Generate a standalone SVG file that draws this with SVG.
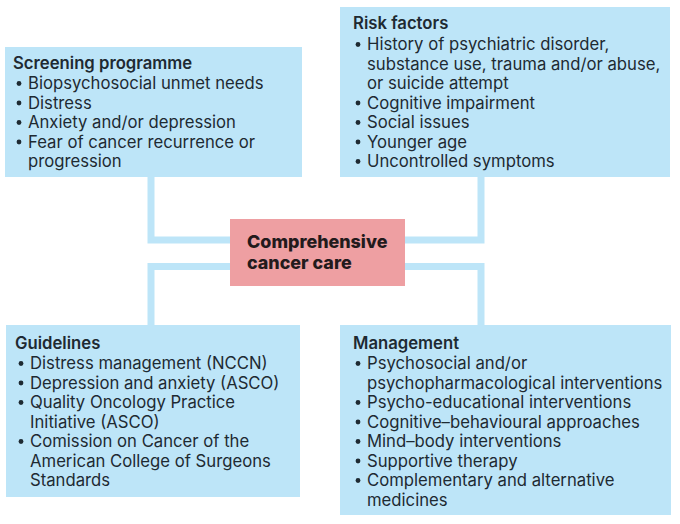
<svg xmlns="http://www.w3.org/2000/svg" width="680" height="524" viewBox="0 0 680 524">
<style>
.box{fill:#bde5f8}
.ctr{fill:#ee9fa2}
.con{stroke:#bde5f8;stroke-width:7;fill:none}
.t{font-family:Inter,"Liberation Sans",Arial,sans-serif;font-size:16.7px;fill:#1e2a32}
.h{font-weight:600}
.c{font-family:Inter,"Liberation Sans",Arial,sans-serif;font-size:17.9px;font-weight:800;fill:#231a1c}
.b{fill:#1e2a32}
</style>
<rect width="680" height="524" fill="#fff"/>
<g id="connectors">
<path class="con" d="M151,177 V240 H230"/>
<path class="con" d="M481,177 V240 H405"/>
<path class="con" d="M230,266.5 H151 V325"/>
<path class="con" d="M405,266.5 H481 V325"/>
</g>
<g id="screening">
<rect class="box" x="5" y="47" width="297" height="130"/>
<text class="t h" x="13" y="69">Screening programme</text>
<g class="b"><circle cx="19" cy="83.5" r="2.4"/><circle cx="19" cy="103" r="2.4"/><circle cx="19" cy="122.5" r="2.4"/><circle cx="19" cy="142" r="2.4"/></g>
<text class="t" x="28"><tspan x="28" y="89">Biopsychosocial unmet needs</tspan><tspan x="28" y="108.5">Distress</tspan><tspan x="28" y="128">Anxiety and/or depression</tspan><tspan x="28" y="147.5">Fear of cancer recurrence or</tspan><tspan x="28" y="167">progression</tspan></text>
</g>
<g id="risk">
<rect class="box" x="340" y="7" width="330" height="170"/>
<text class="t h" x="353" y="29">Risk factors</text>
<g class="b"><circle cx="358" cy="44.5" r="2.4"/><circle cx="358" cy="103" r="2.4"/><circle cx="358" cy="122.5" r="2.4"/><circle cx="358" cy="142" r="2.4"/><circle cx="358" cy="161.5" r="2.4"/></g>
<text class="t"><tspan x="367" y="50">History of psychiatric disorder,</tspan><tspan x="367" y="69.5">substance use, trauma and/or abuse,</tspan><tspan x="367" y="89">or suicide attempt</tspan><tspan x="367" y="108.5">Cognitive impairment</tspan><tspan x="367" y="128">Social issues</tspan><tspan x="367" y="147.5">Younger age</tspan><tspan x="367" y="167">Uncontrolled symptoms</tspan></text>
</g>
<g id="center">
<rect class="ctr" x="230" y="219" width="175" height="67"/>
<text class="c"><tspan x="247" y="248">Comprehensive</tspan><tspan x="247" y="269">cancer care</tspan></text>
</g>
<g id="guidelines">
<rect class="box" x="6" y="325" width="294" height="172"/>
<text class="t h" x="15" y="349">Guidelines</text>
<g class="b"><circle cx="21" cy="363.5" r="2.4"/><circle cx="21" cy="383" r="2.4"/><circle cx="21" cy="402.5" r="2.4"/><circle cx="21" cy="441.5" r="2.4"/></g>
<text class="t"><tspan x="30" y="369">Distress management (NCCN)</tspan><tspan x="30" y="388.5">Depression and anxiety (ASCO)</tspan><tspan x="30" y="408">Quality Oncology Practice</tspan><tspan x="30" y="427.5">Initiative (ASCO)</tspan><tspan x="30" y="447">Comission on Cancer of the</tspan><tspan x="30" y="466.5">American College of Surgeons</tspan><tspan x="30" y="486">Standards</tspan></text>
</g>
<g id="management">
<rect class="box" x="340" y="325" width="331" height="190"/>
<text class="t h" x="353" y="349">Management</text>
<g class="b"><circle cx="358" cy="363.5" r="2.4"/><circle cx="358" cy="402.5" r="2.4"/><circle cx="358" cy="422" r="2.4"/><circle cx="358" cy="441.5" r="2.4"/><circle cx="358" cy="461" r="2.4"/><circle cx="358" cy="480.5" r="2.4"/></g>
<text class="t"><tspan x="367" y="369">Psychosocial and/or</tspan><tspan x="367" y="388.5">psychopharmacological interventions</tspan><tspan x="367" y="408">Psycho-educational interventions</tspan><tspan x="367" y="427.5">Cognitive–behavioural approaches</tspan><tspan x="367" y="447">Mind–body interventions</tspan><tspan x="367" y="466.5">Supportive therapy</tspan><tspan x="367" y="486">Complementary and alternative</tspan><tspan x="367" y="505.5">medicines</tspan></text>
</g>
</svg>
